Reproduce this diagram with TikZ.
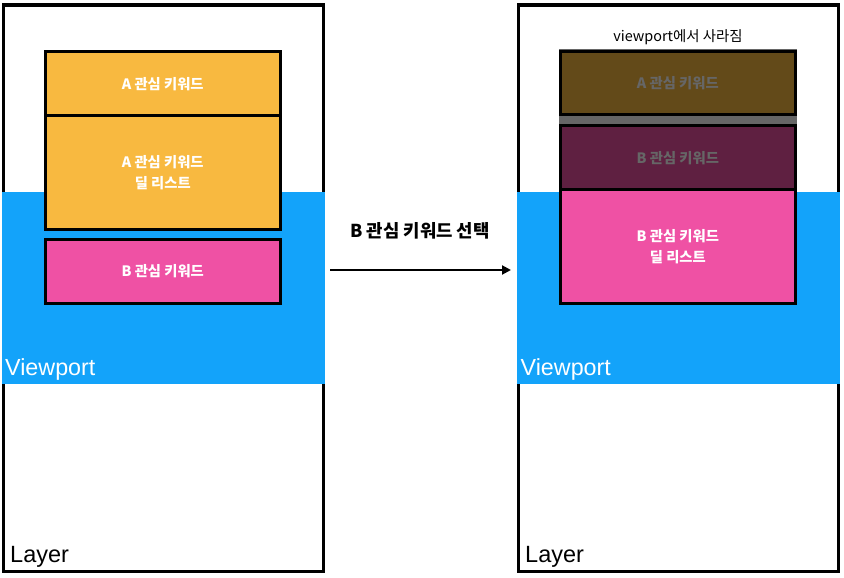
\documentclass[tikz,border=0pt]{standalone}
\usepackage{fontspec}
\setmainfont{Liberation Sans}
\newfontfamily\kr{Noto Sans CJK KR}
\usetikzlibrary{arrows.meta}
\definecolor{vpblue}{RGB}{19,163,250}
\definecolor{korange}{RGB}{248,185,64}
\definecolor{kpink}{RGB}{239,81,164}
\tikzset{
  frame/.style={draw=black, line width=3.3pt},
  vp/.style={fill=vpblue},
  kbox/.style={draw=black, line width=3pt, inner sep=0pt, text=white, align=center,
    font=\kr\bfseries\fontsize{14.3}{21}\selectfont},
  kdim/.style={fill=black, fill opacity=0.6},
  vplabel/.style={anchor=base west, inner sep=0pt, text=white, font=\fontsize{23.3}{26}\selectfont},
  layerlabel/.style={anchor=base west, inner sep=0pt, text=black, font=\fontsize{23.5}{26}\selectfont},
  arrowlabel/.style={anchor=base, inner sep=0pt, font=\kr\bfseries\fontsize{17.8}{20}\selectfont},
  toplabel/.style={anchor=base, inner sep=0pt, font=\kr\fontsize{14.4}{16}\selectfont},
  conn/.style={line width=2pt, -{Triangle[length=9pt,width=9pt]}}
}
\begin{document}
\begin{tikzpicture}[x=1pt,y=-1pt]
\useasboundingbox (0,0) rectangle (844,578);
\fill[white] (0,0) rectangle (844,578);
% left layer
\draw[frame] (3.5,5) rectangle (323.5,571.5);
\fill[vp] (1.8,192) rectangle (325.2,383.5);
\node[kbox, fill=korange, minimum width=234.9, minimum height=63.3] (la1) at (162.75,83.65) {A 관심 키워드};
\node[kbox, fill=korange, minimum width=234.9, minimum height=114.2] (la2) at (162.75,172.4) {A 관심 키워드\\딜 리스트};
\node[kbox, fill=kpink, minimum width=234.9, minimum height=63.5] (lb) at (162.75,271.25) {B 관심 키워드};
\node[vplabel] (lvp) at (5,375) {Viewport};
\node[layerlabel] (llayer) at (10,562.5) {Layer};
% right layer
\draw[frame] (518.5,5) rectangle (838.5,571.5);
\fill[vp] (516.8,192) rectangle (840.2,383.5);
\node[kbox, fill=korange, minimum width=235, minimum height=62.7] (ra) at (677.8,83.35) {A 관심 키워드};
\node[kbox, fill=kpink, minimum width=235, minimum height=64] (rb) at (677.8,157.7) {B 관심 키워드};
\node[kbox, fill=kpink, minimum width=235, minimum height=113.3] (rbl) at (677.8,246.35) {B 관심 키워드\\딜 리스트};
\fill[kdim] (558.8,49) rectangle (796.8,190);
\node[toplabel] (rtop) at (678,42) {viewport에서 사라짐};
\node[vplabel] (rvp) at (520.5,375) {Viewport};
\node[layerlabel] (rlayer) at (525,562.5) {Layer};
% arrow
\coordinate (as) at (330,270);
\coordinate (ae) at (511,270);
\draw[conn] (as) -- (ae);
\node[arrowlabel] (alab) at (420,237) {B 관심 키워드 선택};
\end{tikzpicture}
\end{document}
